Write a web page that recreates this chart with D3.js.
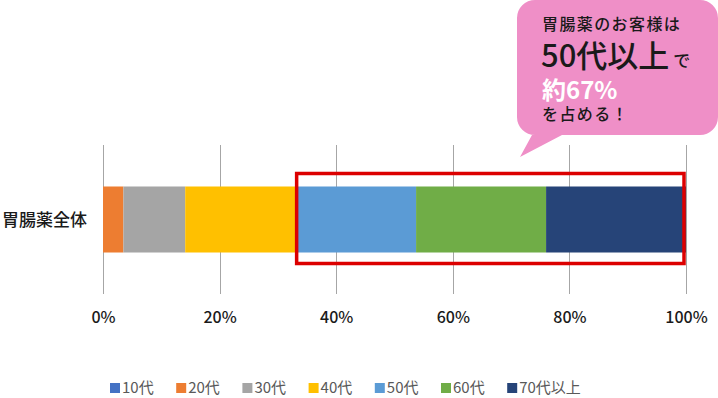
<!DOCTYPE html>
<html>
<head>
<meta charset="utf-8">
<script src="https://cdn.jsdelivr.net/npm/d3@7"></script>
<style>
  html, body { margin: 0; padding: 0; background: #fff; }
  svg { display: block; font-family: "Noto Sans CJK JP", "Noto Sans", sans-serif; }
</style>
</head>
<body>
<div class="chart"></div>
<script>
// data (share of customers by age, %)
var categories = ["胃腸薬全体"];
var ageGroups = ["10代", "20代", "30代", "40代", "50代", "60代", "70代以上"];
var shares = [0, 3.5, 10.6, 19.2, 20.4, 22.3, 24.0];
var tickValues = [0, 20, 40, 60, 80, 100];
var colors = ["#4472c4", "#ed7d31", "#a5a5a5", "#ffc000", "#5b9bd5", "#70ad47", "#264478"];
var highlightFrom = "50代";
var calloutLines = ["胃腸薬のお客様は", "50代以上", "で", "約67%", "を占める！"];

var width = 718, height = 398;

var svg = d3.select(".chart").append("svg")
    .attr("width", width)
    .attr("height", height);

var x = d3.scaleLinear().domain([0, 100]).range([103, 686]);
var y = d3.scaleBand().domain(categories).range([145, 294]).padding(0.386);
var color = d3.scaleOrdinal().domain(ageGroups).range(colors);

// cumulative starts for each segment
var ends = d3.cumsum(shares);
var segs = ageGroups.map((g, i) => ({group: g, cat: categories[0], x0: ends[i] - shares[i], x1: ends[i]}));

// gridlines
svg.append("g")
    .selectAll("line")
    .data(tickValues)
    .join("line")
    .attr("x1", d => Math.round(x(d)) + 0.5)
    .attr("x2", d => Math.round(x(d)) + 0.5)
    .attr("y1", 145)
    .attr("y2", 294)
    .attr("stroke", "#a6a6a6")
    .attr("stroke-width", 1);

// bars
svg.append("g")
    .selectAll("rect")
    .data(segs)
    .join("rect")
    .attr("x", d => x(d.x0))
    .attr("width", d => x(d.x1) - x(d.x0))
    .attr("y", d => y(d.cat))
    .attr("height", y.bandwidth())
    .attr("fill", d => color(d.group));

// x axis labels
var xAxis = svg.append("g")
    .attr("transform", "translate(0,323)")
    .call(d3.axisBottom(x).tickValues(tickValues).tickSize(0).tickFormat(d => d + "%"));
xAxis.select(".domain").remove();
xAxis.selectAll("text")
    .attr("y", 0)
    .attr("dy", null)
    .attr("fill", "#1a1a1a")
    .style("font-family", "\"Noto Sans CJK JP\", sans-serif")
    .style("font-size", "16px")
    .style("font-weight", 500);

// category label
svg.append("g")
    .selectAll("text")
    .data(categories)
    .join("text")
    .attr("x", 87)
    .attr("y", d => y(d) + y.bandwidth() / 2)
    .attr("dy", "0.36em")
    .attr("text-anchor", "end")
    .attr("fill", "#1a1a1a")
    .style("font-size", "17px")
    .style("font-weight", 500)
    .text(d => d);

// highlight box around 50代 and above
var hi = segs.find(d => d.group === highlightFrom);
svg.append("rect")
    .attr("x", x(hi.x0) - 0.5)
    .attr("y", y(categories[0]) - 13)
    .attr("width", x(100) - x(hi.x0) - 1.5)
    .attr("height", y.bandwidth() + 24)
    .attr("fill", "none")
    .attr("stroke", "#dc0000")
    .attr("stroke-width", 3.5);

// callout bubble
var bx0 = 517, bx1 = 718, by0 = 0, by1 = 135, r = 18;
var bubble = d3.path();
bubble.moveTo(bx0 + r, by0);
bubble.lineTo(bx1 - r, by0);
bubble.arcTo(bx1, by0, bx1, by0 + r, r);
bubble.lineTo(bx1, by1 - r);
bubble.arcTo(bx1, by1, bx1 - r, by1, r);
bubble.lineTo(562, by1);
bubble.lineTo(520, 157);
bubble.lineTo(532, by1);
bubble.lineTo(bx0 + r, by1);
bubble.arcTo(bx0, by1, bx0, by1 - r, r);
bubble.lineTo(bx0, by0 + r);
bubble.arcTo(bx0, by0, bx0 + r, by0, r);
bubble.closePath();
svg.append("path")
    .attr("d", bubble.toString())
    .attr("fill", "#ef8fc7");

var ct = svg.append("g").attr("fill", "#1a1a1a").style("font-weight", 500);
ct.append("text").attr("x", 542).attr("y", 30)
    .style("font-size", "16px").style("letter-spacing", "1.4px")
    .text(calloutLines[0]);
var big = ct.append("text").attr("x", 541).attr("y", 67);
big.append("tspan").style("font-size", "31px").text(calloutLines[1]);
big.append("tspan").attr("dx", 4).style("font-size", "17px").text(calloutLines[2]);
ct.append("text").attr("x", 542).attr("y", 99)
    .attr("fill", "#fff")
    .style("font-size", "24px").style("font-weight", 700)
    .text(calloutLines[3]);
ct.append("text").attr("x", 542).attr("y", 120)
    .style("font-size", "16px").style("letter-spacing", "1.4px")
    .text(calloutLines[4]);

// legend
var legend = svg.append("g")
    .selectAll("g")
    .data(ageGroups)
    .join("g")
    .attr("transform", (d, i) => "translate(" + (110 + i * 66.2) + ",383)");
legend.append("rect")
    .attr("width", 10)
    .attr("height", 10)
    .attr("fill", d => color(d));
legend.append("text")
    .attr("x", 12)
    .attr("y", 10)
    .attr("fill", "#595959")
    .style("font-size", "15px")
    .text(d => d);
</script>
</body>
</html>
